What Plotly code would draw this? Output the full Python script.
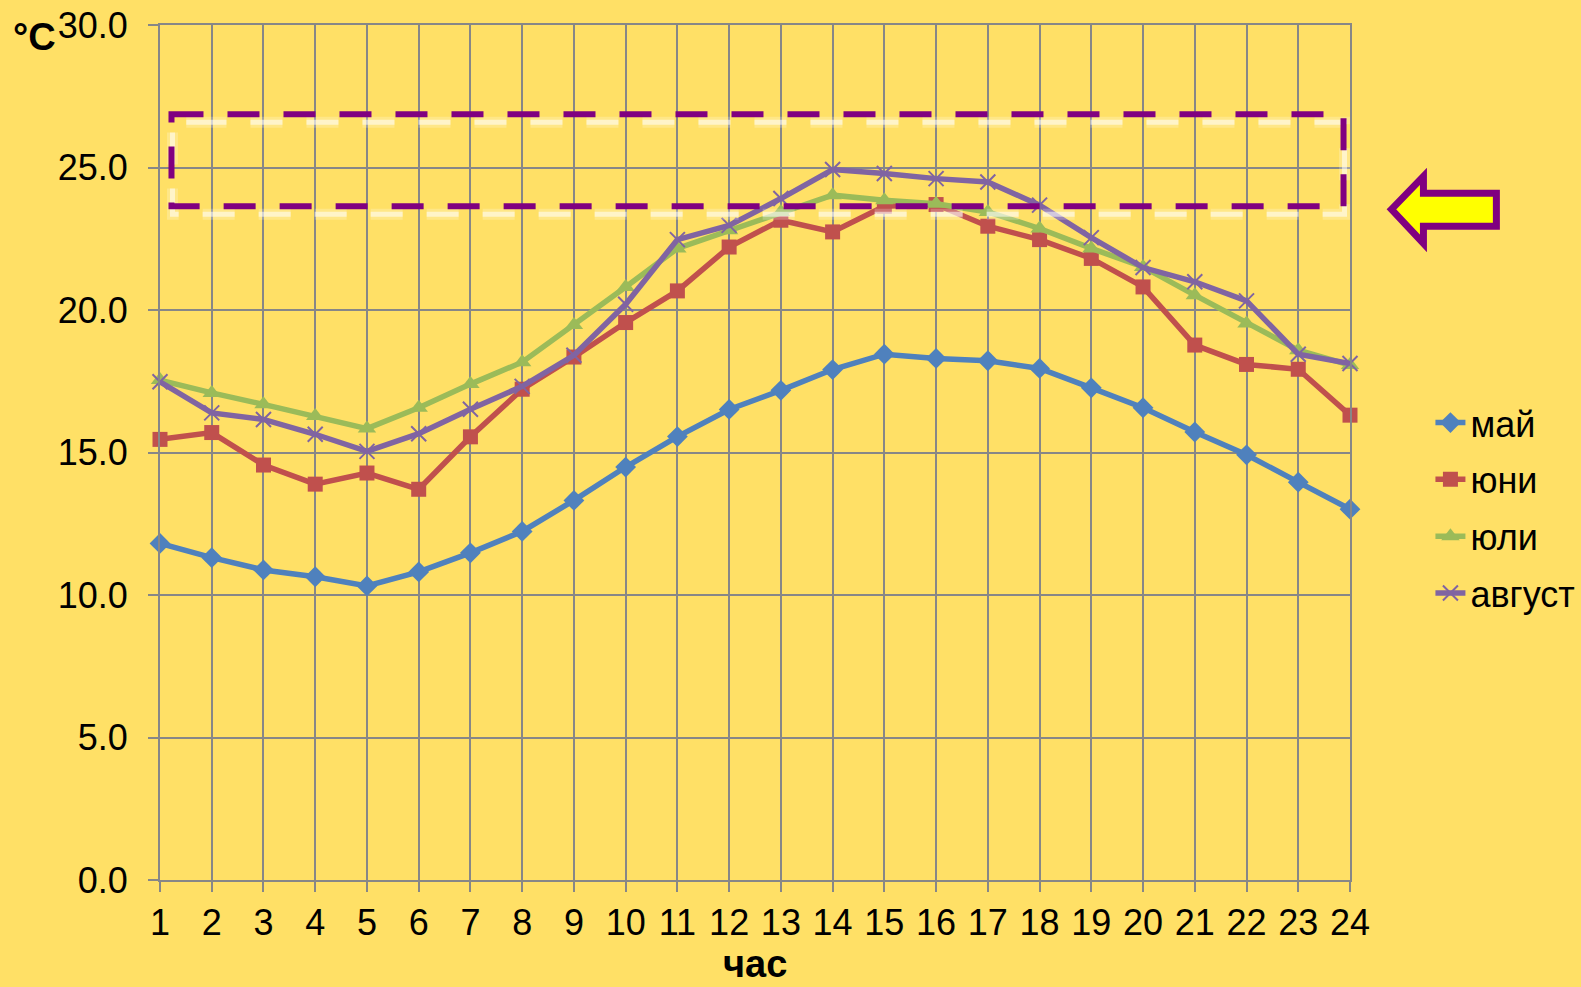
import plotly.graph_objects as go

# Hourly mean air temperature, °C
hours = list(range(1, 25))
may = [11.81, 11.31, 10.88, 10.64, 10.32, 10.81, 11.48, 12.23, 13.32, 14.49, 15.56, 16.51,
       17.18, 17.91, 18.45, 18.30, 18.22, 17.95, 17.27, 16.57, 15.72, 14.92, 13.96, 13.01]
june = [15.46, 15.70, 14.56, 13.89, 14.28, 13.71, 15.55, 17.22, 18.35, 19.56, 20.67, 22.21,
        23.15, 22.74, 23.64, 23.70, 22.94, 22.47, 21.81, 20.81, 18.77, 18.09, 17.92, 16.31]
july = [17.54, 17.09, 16.69, 16.28, 15.84, 16.57, 17.40, 18.17, 19.47, 20.81, 22.16, 22.80,
        23.44, 24.03, 23.85, 23.73, 23.44, 22.86, 22.16, 21.51, 20.52, 19.53, 18.59, 18.07]
august = [17.48, 16.39, 16.16, 15.64, 15.04, 15.66, 16.52, 17.32, 18.41, 20.20, 22.47, 22.97,
          23.91, 24.93, 24.79, 24.61, 24.49, 23.68, 22.54, 21.49, 20.99, 20.32, 18.45, 18.12]

series_names = ["май", "юни", "юли", "август"]
y_ticks = [0, 5, 10, 15, 20, 25, 30]

BG = "#FFE066"
GRID = "#878787"
FONT = "Liberation Sans, Arial, sans-serif"

# plot-area geometry in pixels
FIG_W, FIG_H = 1581, 987
L, T, R, B = 159.5, 24.6, 1350.5, 880.0
W, H = R - L, B - T


def px(x):
    return (x - L) / W


def py(y):
    return 1 - (y - T) / H


styles = [
    dict(color="#4F81BD", symbol="diamond", size=16),
    dict(color="#C0504D", symbol="square", size=15),
    dict(color="#9BBB59", symbol="triangle-up", size=16),
    dict(color="#8064A2", symbol="x-thin", size=15),
]

fig = go.Figure()
for name, vals, st in zip(series_names, [may, june, july, august], styles):
    marker = dict(symbol=st["symbol"], size=st["size"], color=st["color"])
    if st["symbol"] == "x-thin":
        marker["line"] = dict(color=st["color"], width=2)
    fig.add_trace(go.Scatter(
        x=hours, y=vals, name=name, mode="lines+markers",
        line=dict(color=st["color"], width=5.5),
        marker=marker, cliponaxis=False, legendgroup=name,
    ))

# highlighted band 23.6–26.9 °C: dashed frame with a soft white shadow
bx0, bx1 = 1.222, 23.875
by0, by1 = 23.64, 26.87
sdx, sdy = 1 / 51.78, 8 / 28.51
phase = 22 / 51.78


def frame_path(x0, x1, y0, y1, start):
    return (f"M{x0 + start},{y1} L{x1},{y1} L{x1},{y0} L{x0},{y0} "
            f"L{x0},{y1} Z")


shadow = frame_path(bx0 + sdx, bx1 + sdx, by0 - sdy, by1 - sdy, phase)
fig.add_shape(type="path", path=shadow, xref="x", yref="y",
              line=dict(color="rgba(255,255,255,0.22)", width=11, dash="32px,24px"))
fig.add_shape(type="path", path=shadow, xref="x", yref="y",
              line=dict(color="rgba(255,255,255,0.55)", width=5, dash="32px,24px"))
fig.add_shape(type="path", path=frame_path(bx0, bx1, by0, by1, 0), xref="x", yref="y",
              line=dict(color="#800080", width=6, dash="32px,24px"))

# pointer arrow to the right of the frame
arrow_pts = [(1392, 209), (1424, 176), (1424, 193), (1497, 193),
             (1497, 226), (1424, 226), (1424, 243)]
arrow = "M" + " L".join(f"{px(x):.5f},{py(y):.5f}" for x, y in arrow_pts) + " Z"
fig.add_shape(type="path", path=arrow, xref="paper", yref="paper",
              fillcolor="#FFFF00", line=dict(color="#800080", width=7), layer="above")

# unit label
fig.add_annotation(text="<b>°C</b>", xref="paper", yref="paper",
                   x=px(10), y=py(37), xanchor="left", yanchor="middle",
                   showarrow=False, font=dict(size=38, color="black", family=FONT))

# x-axis caption
fig.add_annotation(text="<b>час</b>", xref="paper", yref="paper",
                   x=0.5, y=py(987), xanchor="center", yanchor="bottom",
                   showarrow=False, font=dict(size=38, color="black", family=FONT))

axis_common = dict(
    showgrid=True, gridcolor=GRID, gridwidth=2,
    showline=True, linecolor=GRID, linewidth=2, mirror=True,
    ticks="outside", ticklen=10, tickwidth=2, tickcolor=GRID,
    zeroline=False, tickfont=dict(size=36, color="black", family=FONT),
)

fig.update_xaxes(range=[1, 24], tickmode="array", tickvals=hours,
                 ticktext=[str(h) for h in hours],
                 **axis_common)
fig.update_yaxes(range=[0, 30], tickmode="array", tickvals=y_ticks,
                 ticktext=[f"{v:.1f}" for v in y_ticks], ticklabelstandoff=13,
                 **axis_common)

fig.update_layout(
    width=FIG_W, height=FIG_H,
    margin=dict(l=L, r=FIG_W - R, t=T, b=FIG_H - B, autoexpand=False),
    paper_bgcolor=BG, plot_bgcolor=BG,
    font=dict(family=FONT, color="black"),
    legend=dict(x=px(1431), y=py(508), xanchor="left", yanchor="middle",
                font=dict(size=36, color="black", family=FONT),
                bgcolor="rgba(0,0,0,0)", traceorder="grouped", tracegroupgap=7),
    showlegend=True,
)

fig.write_html("out.html")
